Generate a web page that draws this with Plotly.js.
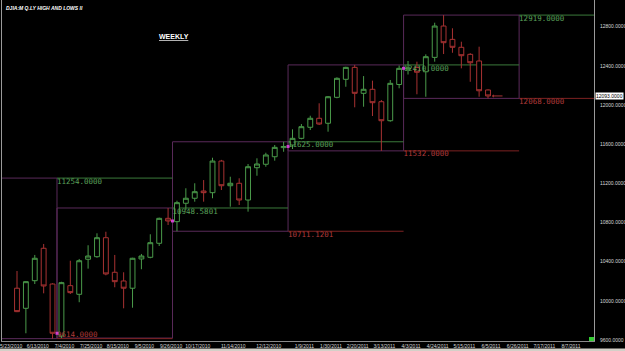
<!DOCTYPE html>
<html><head><meta charset="utf-8">
<script src="https://cdn.plot.ly/plotly-3.0.1.min.js"></script>
<style>html,body{margin:0;padding:0;background:#000;overflow:hidden}#chart{width:625px;height:351px;}</style>
</head><body><div id="chart"></div>
<script>
// ---- data (weekly bars, week starting Sunday) ----
const weeks = ['2010-05-30','2010-06-06','2010-06-13','2010-06-20','2010-06-27','2010-07-04','2010-07-11','2010-07-18','2010-07-25','2010-08-01','2010-08-08','2010-08-15','2010-08-22','2010-08-29','2010-09-05','2010-09-12','2010-09-19','2010-09-26','2010-10-03','2010-10-10','2010-10-17','2010-10-24','2010-10-31','2010-11-07','2010-11-14','2010-11-21','2010-11-28','2010-12-05','2010-12-12','2010-12-19','2010-12-26','2011-01-02','2011-01-09','2011-01-16','2011-01-23','2011-01-30','2011-02-06','2011-02-13','2011-02-20','2011-02-27','2011-03-06','2011-03-13','2011-03-20','2011-03-27','2011-04-03','2011-04-10','2011-04-17','2011-04-24','2011-05-01','2011-05-08','2011-05-15','2011-05-22','2011-05-29','2011-06-05'];
const openP  = [10129,9924,10206,10537,10172,9641,10155,10067,10425,10451,10645,10292,10203,10129,10428,10445,10588,10843,10809,10997,11048,11122,11105,11428,11176,11201,11030,11360,11395,11472,11565,11592,11660,11773,11865,11814,12079,12263,12385,12120,12161,12034,11840,12210,12368,12383,12340,12487,12807,12671,12590,12518,12450,12154];
const highP  = [10305,10200,10469,10581,10180,10195,10410,10428,10568,10690,10706,10469,10292,10440,10479,10680,10850,10948.58,11023,11150,11201,11234,11462,11440,11268,11252,11398,11456,11513,11592,11625,11752,11806,11891,12018,12092,12283,12391,12410,12296,12249,12051,12256,12404,12450,12443,12518,12841,12919,12784,12647,12530,12596,12160];
const lowP   = [9885,9669,10172,10077,9614,9620,10070,9986,10329,10440,10261,10139,9924,9930,10323,10435,10560,10775,10711.12,10928,11013,11013,11048,11132,10962,10979,10911,11278,11370,11432,11523,11551,11650,11745,11796,11728,12069,12187,11977,11983,11888,11532,11830,12171,12312,12110,12085,12443,12521,12534,12375,12238,12085,12068];
const closeP = [9890,10196,10435,10152,9669,10186,10084,10410,10458,10645,10275,10196,10129,10435,10458,10594,10843,10816,11003,11048,11115,11105,11428,11176,11201,11030,11370,11398,11490,11568,11577,11660,11779,11865,11806,12085,12273,12385,12120,12161,12024,11840,12222,12375,12378,12335,12494,12807,12637,12590,12504,12432,12146,12093];

// quarter boxes (Q2'10 .. Q2'11) and edges
const quarterEdges = ['2010-03-31 12:00','2010-06-30 12:00','2010-09-29 12:00','2010-12-29 12:00','2011-03-30 12:00','2011-06-29 12:00','2011-09-28 12:00'];
const quarterHigh = [11254, 10948.5801, 11625, 12410, 12919];
const quarterLow  = [9614, 9620, 10711.1201, 11532, 12068];
// previous-quarter levels drawn across Q3'10 .. Q3'11
const greenLevels = [11254, 10948.5801, 11625, 12410, 12919];
const redLevels   = [9614, null, 10711.1201, 11532, 12068];

const yTicks = [9600,10000,10400,10800,11200,11600,12000,12400,12800];
const xTickDates = ['2010-05-23','2010-06-13','2010-07-04','2010-07-25','2010-08-15','2010-09-05','2010-09-26','2010-10-17','2010-11-14','2010-12-12','2011-01-09','2011-01-30','2011-02-20','2011-03-13','2011-04-03','2011-04-24','2011-05-15','2011-06-05','2011-06-26','2011-07-17','2011-08-07'];
const xTickText  = ['5/23/2010','6/13/2010','7/4/2010','7/25/2010','8/15/2010','9/5/2010','9/26/2010','10/17/2010','11/14/2010','12/12/2010','1/9/2011','1/30/2011','2/20/2011','3/13/2011','4/3/2011','4/24/2011','5/15/2011','6/5/2011','6/26/2011','7/17/2011','8/7/2011'];

// ---- styling ----
const GREEN = '#4a9a4a', RED = '#a83232', PURPLE = '#5a2a5a';
const GLINE = '#3b7a3b', RLINE = '#7e2222', GLAB = '#5aa05a', RLAB = '#b03a3a';
const MONO = 'DejaVu Sans Mono, monospace';

const DAY = 86400000;
const t0 = Date.parse('2010-05-30T00:00:00Z');
const pxPerDay = 8.887 / 7;
const iso = ms => new Date(ms).toISOString().replace('T',' ').replace('Z','');
const xRange = [iso(t0 - 15 / pxPerDay * DAY), iso(t0 + 577 / pxPerDay * DAY)];

const shapes = [];
for (let i = 0; i < quarterHigh.length; i++) {
  shapes.push({type:'rect', xref:'x', yref:'y', layer:'below', x0:quarterEdges[i], x1:quarterEdges[i+1], y0:quarterLow[i], y1:quarterHigh[i], line:{color:PURPLE, width:1}});
}
const labX = [], labY = [], labT = [], labC = [], labP = [];
for (let k = 0; k < greenLevels.length; k++) {
  const xs = quarterEdges[k+1], xe = quarterEdges[k+2];
  if (greenLevels[k] != null) {
    shapes.push({type:'line', xref:'x', yref:'y', layer:'below', x0:xs, x1:xe, y0:greenLevels[k], y1:greenLevels[k], line:{color:GLINE, width:1}});
    labX.push(xs); labY.push(greenLevels[k]); labT.push(greenLevels[k].toFixed(4)); labC.push(GLAB); labP.push('bottom right');
  }
  if (redLevels[k] != null) {
    shapes.push({type:'line', xref:'x', yref:'y', layer:'below', x0:xs, x1:xe, y0:redLevels[k], y1:redLevels[k], line:{color:RLINE, width:1}});
    labX.push(xs); labY.push(redLevels[k]); labT.push(redLevels[k].toFixed(4)); labC.push(RLAB);
    labP.push(k === 0 ? 'top right' : 'bottom right');
  }
}
// bottom strip + small marker
shapes.push({type:'rect', xref:'paper', yref:'paper', x0:-0.01, x1:1.06, y0:-7.5/341, y1:-10.5/341, fillcolor:'#d4d0c8', line:{width:0}, layer:'above'});
shapes.push({type:'rect', xref:'paper', yref:'paper', x0:587/592, x1:592/592, y0:0, y1:4/341, fillcolor:'#33cc33', line:{width:0}, layer:'above'});

// quarter closing markers (close of last bar in each quarter)
const qmX = [], qmY = [];
for (let e = 1; e <= 4; e++) {
  const edge = Date.parse(quarterEdges[e].replace(' ','T') + 'Z');
  let idx = -1;
  weeks.forEach((w, i) => { if (Date.parse(w + 'T00:00:00Z') < edge) idx = i; });
  if (idx >= 0) { qmX.push(quarterEdges[e]); qmY.push(closeP[idx]); }
}

const traces = [
  {type:'scatter', mode:'text', x:labX, y:labY, text:labT, textposition:labP,
   textfont:{family:MONO, size:7.5, color:labC}, hoverinfo:'skip', showlegend:false, cliponaxis:false},
  {type:'candlestick', x:weeks, open:openP, high:highP, low:lowP, close:closeP,
   increasing:{line:{color:GREEN, width:1}, fillcolor:'rgba(0,0,0,1)'},
   decreasing:{line:{color:RED, width:1}, fillcolor:'rgba(0,0,0,1)'},
   whiskerwidth:0, hoverinfo:'skip', showlegend:false},
  {type:'scatter', mode:'markers', x:qmX, y:qmY, marker:{symbol:'square', size:3, color:'#d040d0'}, hoverinfo:'skip', showlegend:false}
];

const last = weeks.length - 1;
const layout = {
  width:625, height:351,
  margin:{l:2, r:31, t:0, b:10, pad:0},
  paper_bgcolor:'#000', plot_bgcolor:'#000',
  showlegend:false, boxgap:0.22,
  font:{family:'Liberation Sans, Arial, sans-serif', color:'#ddd', size:5},
  xaxis:{type:'date', range:xRange, rangeslider:{visible:false}, showgrid:false, zeroline:false,
    showline:true, linecolor:'#8a8a8a', linewidth:1, ticks:'',
    tickmode:'array', tickvals:xTickDates, ticktext:xTickText, ticklabelshift:3, ticklabeloverflow:'allow',
    tickfont:{size:5, color:'#d8d8d8', family:'Liberation Sans, Arial, sans-serif'}, fixedrange:true},
  yaxis:{side:'right', range:[9590, 13073], showgrid:false, zeroline:false,
    showline:true, mirror:true, linecolor:'#9a9a9a', linewidth:1, ticks:'',
    tickmode:'array', tickvals:yTicks, tickformat:'.4f', ticklabelstandoff:4,
    tickfont:{size:5, color:'#d8d8d8', family:'Liberation Sans, Arial, sans-serif'}, fixedrange:true},
  shapes:shapes,
  annotations:[
    {xref:'paper', yref:'paper', x:2/592, y:1 - 3/341, xanchor:'left', yanchor:'top', showarrow:false,
     text:'<b><i>DJIA:M Q.LY HIGH AND LOWS II</i></b>', font:{size:5, color:'#fff', family:'Liberation Sans, Arial, sans-serif'}},
    {xref:'paper', yref:'paper', x:(174-2)/592, y:1 - 36.5/341, xanchor:'center', yanchor:'middle', showarrow:false,
     text:'<b><u>WEEKLY</u></b>', font:{size:7, color:'#fff', family:'Liberation Sans, Arial, sans-serif'}},
    {xref:'paper', yref:'y', x:1, y:closeP[last], xanchor:'left', yanchor:'middle', xshift:1, showarrow:false,
     text:closeP[last].toFixed(4), bgcolor:'#fff', borderpad:0, font:{size:5, color:'#000', family:'Liberation Sans, Arial, sans-serif'}},
    {xref:'x', yref:'y', x:weeks[last], y:closeP[last], ax:16, ay:0, showarrow:true, arrowhead:1, arrowsize:0.6,
     arrowwidth:1, arrowcolor:RED, standoff:4, text:''}
  ]
};
Plotly.newPlot('chart', traces, layout, {staticPlot:true, displayModeBar:false});
</script></body></html>
